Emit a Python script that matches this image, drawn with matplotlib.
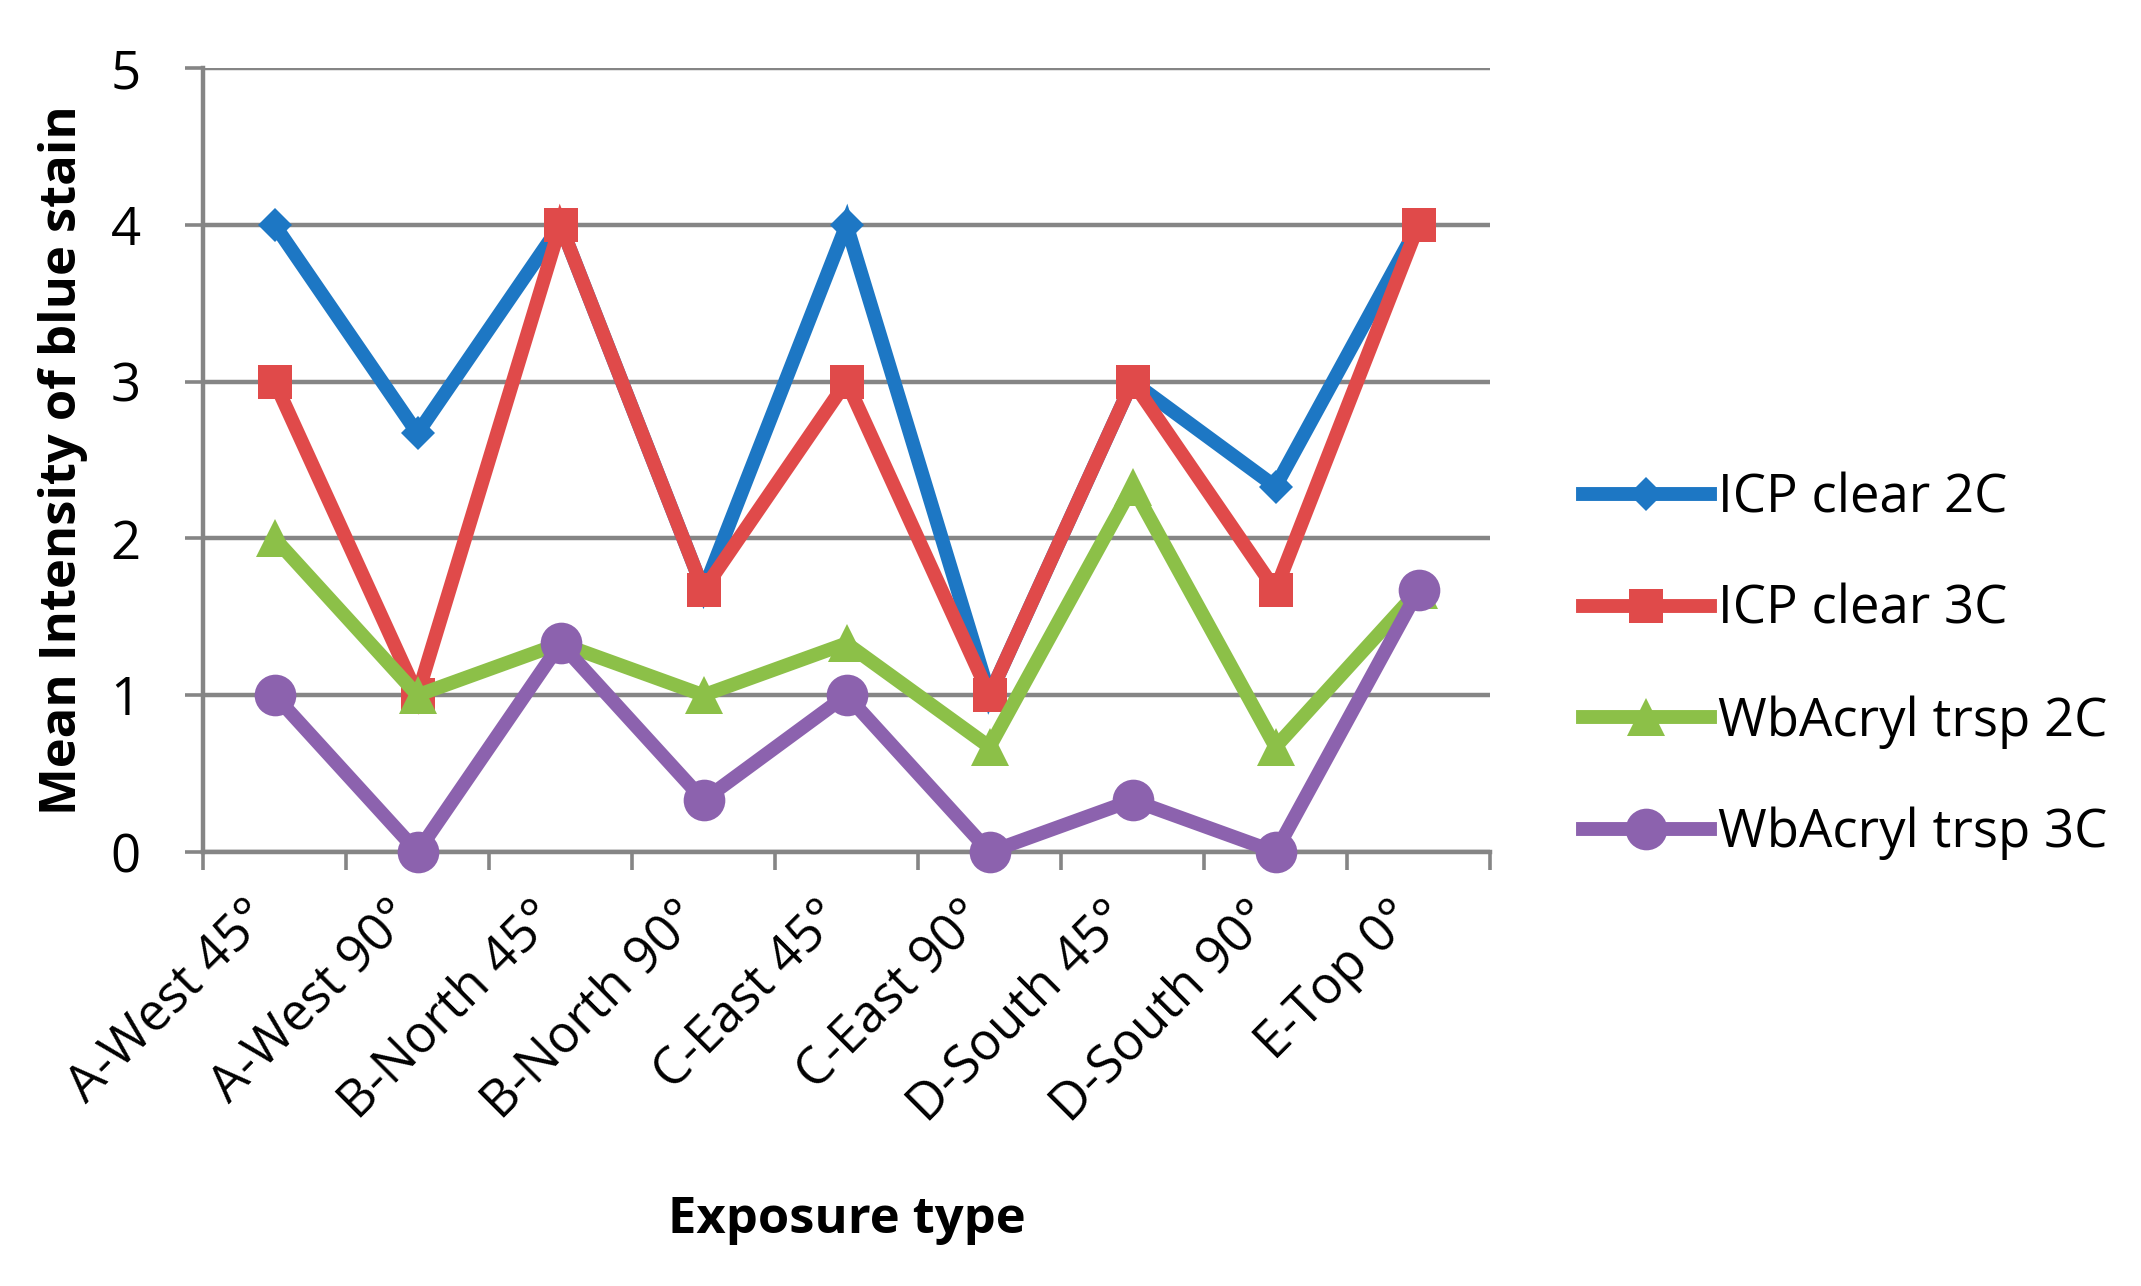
import matplotlib
matplotlib.use("Agg")
import matplotlib.pyplot as plt
import matplotlib.transforms as mtransforms
import numpy as np

categories = ["A-West 45°", "A-West 90°", "B-North 45°", "B-North 90°", "C-East 45°",
              "C-East 90°", "D-South 45°", "D-South 90°", "E-Top 0°"]
icp_clear_2c = [4, 2.67, 4, 1.67, 4, 1, 3, 2.33, 4]
icp_clear_3c = [3, 1, 4, 1.67, 3, 1, 3, 1.67, 4]
wbacryl_2c = [2, 1, 1.33, 1, 1.33, 0.67, 2.33, 0.67, 1.67]
wbacryl_3c = [1, 0, 1.33, 0.33, 1, 0, 0.33, 0, 1.67]
series_names = ["ICP clear 2C", "ICP clear 3C", "WbAcryl trsp 2C", "WbAcryl trsp 3C"]
y_ticks = [0, 1, 2, 3, 4, 5]

plt.rcParams['font.family'] = ['Open Sans', 'DejaVu Sans']

W, H = 2141, 1286
fig = plt.figure(figsize=(W / 100, H / 100), dpi=100)
ax = fig.add_axes([203 / W, 1 - 852 / H, (1490 - 203) / W, (852 - 68) / H])

x = np.arange(len(categories))
styles = [
    dict(color="#1D77C4", marker="D", ms=17),
    dict(color="#E04A4A", marker="s", ms=24),
    dict(color="#8CC048", marker="^", ms=27),
    dict(color="#8C62AE", marker="o", ms=30),
]
data = [icp_clear_2c, icp_clear_3c, wbacryl_2c, wbacryl_3c]
for name, vals, st in zip(series_names, data, styles):
    ax.plot(x, vals, color=st["color"], lw=10, marker=st["marker"], ms=st["ms"],
            markeredgewidth=0, label=name, solid_joinstyle="miter", clip_on=False, zorder=3)

ax.set_xlim(-0.5, len(categories) - 0.5)
ax.set_ylim(0, 5)
ax.set_yticks(y_ticks)
ax.set_yticklabels([str(t) for t in y_ticks], fontsize=38)
ax.yaxis.grid(True, color="#858585", lw=3.2)
ax.set_axisbelow(True)

ax.set_xticks(x)
ax.set_xticklabels(categories, rotation=45, ha="right", va="top",
                   rotation_mode="anchor", fontsize=37)
ax.set_xticks(np.arange(-0.5, len(categories)), minor=True)
ax.tick_params(axis="x", which="major", length=0, pad=26)
ax.tick_params(axis="x", which="minor", length=13, width=2.6, color="#858585", direction="out")
ax.tick_params(axis="y", length=13, width=2.6, color="#858585", direction="out", pad=32)
offset = mtransforms.ScaledTranslation(-30 / 100, -4 / 100, fig.dpi_scale_trans)
for lbl in ax.get_xticklabels():
    lbl.set_transform(lbl.get_transform() + offset)

for s in ["top", "right"]:
    ax.spines[s].set_visible(False)
ax.spines["left"].set_color("#858585")
ax.spines["left"].set_linewidth(3.2)
ax.spines["bottom"].set_color("#858585")
ax.spines["bottom"].set_linewidth(3.2)

ax.set_ylabel("Mean Intensity of blue stain", fontsize=36.5, fontweight="bold")
ax.set_xlabel("Exposure type", fontsize=36.5, fontweight="bold")
ax.xaxis.set_label_coords(0.5, -(1195 - 852) / (852 - 68))
ax.yaxis.set_label_coords(-(203 - 63) / (1490 - 203), 0.5)
ax.yaxis.label.set_va("center")

leg = fig.legend(loc="center left", bbox_to_anchor=(1583 / W, 1 - 666 / H), frameon=False,
                 fontsize=38, handlelength=2.4, handletextpad=0.15, labelspacing=1.1,
                 borderpad=0, borderaxespad=0)

fig.savefig("out.png", dpi=100, facecolor="white")
